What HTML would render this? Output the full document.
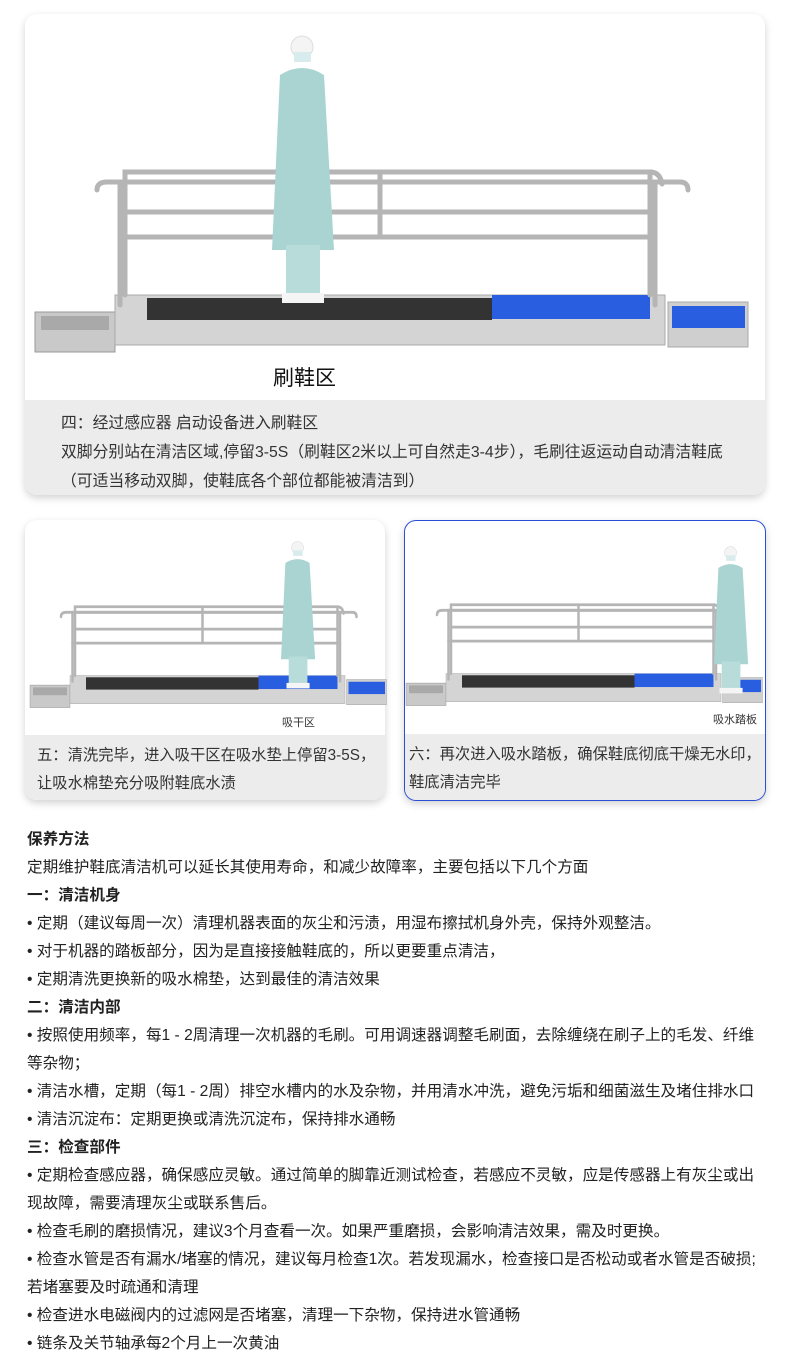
<!DOCTYPE html>
<html><head><meta charset="utf-8"><style>
*{margin:0;padding:0;box-sizing:border-box}
body{width:790px;height:1365px;background:#fff;position:relative;overflow:hidden;font-family:"Liberation Sans","Noto Sans CJK SC",sans-serif;color:#222}
.card{position:absolute;background:#fff;border-radius:12px;overflow:hidden;box-shadow:0 3px 8px rgba(0,0,0,.18)}
.gray{position:absolute;left:0;right:0;bottom:0;background:#ececec}
.t{position:absolute;font-size:15.8px;color:#333;white-space:nowrap}
.s{font-size:15.3px}
.txt{position:absolute;left:27px;font-size:15.6px;color:#222;white-space:nowrap;line-height:28px}
.b{font-weight:bold}
svg{position:absolute;left:0;top:0}
</style></head><body>

<div class="card" style="left:25px;top:14px;width:740px;height:481px">
  <div class="gray" style="height:95px"></div>
  <div class="t" style="left:36px;top:396px">四：经过感应器 启动设备进入刷鞋区</div>
  <div class="t" style="left:36px;top:425px">双脚分别站在清洁区域,停留3-5S（刷鞋区2米以上可自然走3-4步），毛刷往返运动自动清洁鞋底</div>
  <div class="t" style="left:36px;top:454px">（可适当移动双脚，使鞋底各个部位都能被清洁到）</div>
  <div class="t" style="left:248px;top:348px;font-size:21px;color:#111">刷鞋区</div>
</div>

<div class="card" style="left:25px;top:520px;width:360px;height:280px">
  <div class="gray" style="height:65px"></div>
  <div class="t s" style="left:12px;top:223px">五：清洗完毕，进入吸干区在吸水垫上停留3-5S，</div>
  <div class="t s" style="left:12px;top:251px">让吸水棉垫充分吸附鞋底水渍</div>
  <div class="t" style="left:257px;top:194px;font-size:11px">吸干区</div>
</div>

<div class="card" style="left:404px;top:520px;width:362px;height:281px;border:1.5px solid #2a4fd6">
  <div class="gray" style="height:66px"></div>
  <div class="t s" style="left:4px;top:221px">六：再次进入吸水踏板，确保鞋底彻底干燥无水印，</div>
  <div class="t s" style="left:4px;top:249px">鞋底清洁完毕</div>
  <div class="t" style="left:308px;top:190px;font-size:11px">吸水踏板</div>
</div>

<svg width="790" height="820" viewBox="0 0 790 820">
 <defs>
  <g id="m">
   <rect x="0" y="152" width="80" height="40" fill="#c9c9c9" stroke="#999"/>
   <rect x="6" y="156" width="68" height="14" fill="#a9a9a9"/>
   <rect x="80" y="135" width="550" height="50" fill="#d4d4d4" stroke="#aaa"/>
   <rect x="112" y="138" width="345" height="22" fill="#333"/>
   <rect x="457" y="135" width="158" height="24" fill="#2a5ee0"/>
   <rect x="633" y="142" width="80" height="45" fill="#cfcfcf" stroke="#aaa"/>
   <rect x="637" y="146" width="73" height="22" fill="#2a5ee0"/>
   <g stroke="#b5b5b5" stroke-width="5" fill="none" stroke-linecap="round">
    <path d="M90 135V12H615V135"/>
    <path d="M615 12q10 0 12 12"/>
    <path d="M85 145V22H620V145"/>
    <path d="M62 30q0-8 10-8H645q8 0 8 8"/>
    <path d="M90 52H615M85 77H620M345 12V77"/>
   </g>
  </g>
  <g id="p">
   <circle cx="30" cy="12" r="11" fill="#f4f4f4" stroke="#ddd"/>
   <rect x="22" y="17" width="17" height="10" fill="#d8ecee"/>
   <path d="M8 40q22-14 44 0l10 175H0z" fill="#a9d4d2"/>
   <rect x="14" y="210" width="34" height="52" fill="#b8dcd9"/>
   <rect x="10" y="258" width="42" height="10" fill="#f5f5f5"/>
  </g>
 </defs>
 <use href="#m" transform="translate(35,160)"/>
 <use href="#p" transform="translate(272,35)"/>
 <use href="#m" transform="translate(30,600) scale(0.5,0.56)"/>
 <use href="#p" transform="translate(281,541) scale(0.55)"/>
 <use href="#m" transform="translate(406,598) scale(0.5,0.56)"/>
 <use href="#p" transform="translate(714,546) scale(0.55)"/>
</svg>

<div class="txt b" style="top:826px">保养方法</div>
<div class="txt" style="top:854px">定期维护鞋底清洁机可以延长其使用寿命，和减少故障率，主要包括以下几个方面</div>
<div class="txt b" style="top:882px">一：清洁机身</div>
<div class="txt" style="top:910px">• 定期（建议每周一次）清理机器表面的灰尘和污渍，用湿布擦拭机身外壳，保持外观整洁。</div>
<div class="txt" style="top:938px">• 对于机器的踏板部分，因为是直接接触鞋底的，所以更要重点清洁，</div>
<div class="txt" style="top:966px">• 定期清洗更换新的吸水棉垫，达到最佳的清洁效果</div>
<div class="txt b" style="top:994px">二：清洁内部</div>
<div class="txt" style="top:1022px">• 按照使用频率，每1 - 2周清理一次机器的毛刷。可用调速器调整毛刷面，去除缠绕在刷子上的毛发、纤维</div>
<div class="txt" style="top:1050px">等杂物；</div>
<div class="txt" style="top:1078px">• 清洁水槽，定期（每1 - 2周）排空水槽内的水及杂物，并用清水冲洗，避免污垢和细菌滋生及堵住排水口</div>
<div class="txt" style="top:1106px">• 清洁沉淀布：定期更换或清洗沉淀布，保持排水通畅</div>
<div class="txt b" style="top:1134px">三：检查部件</div>
<div class="txt" style="top:1162px">• 定期检查感应器，确保感应灵敏。通过简单的脚靠近测试检查，若感应不灵敏，应是传感器上有灰尘或出</div>
<div class="txt" style="top:1190px">现故障，需要清理灰尘或联系售后。</div>
<div class="txt" style="top:1218px">• 检查毛刷的磨损情况，建议3个月查看一次。如果严重磨损，会影响清洁效果，需及时更换。</div>
<div class="txt" style="top:1246px">• 检查水管是否有漏水/堵塞的情况，建议每月检查1次。若发现漏水，检查接口是否松动或者水管是否破损;</div>
<div class="txt" style="top:1274px">若堵塞要及时疏通和清理</div>
<div class="txt" style="top:1302px">• 检查进水电磁阀内的过滤网是否堵塞，清理一下杂物，保持进水管通畅</div>
<div class="txt" style="top:1330px">• 链条及关节轴承每2个月上一次黄油</div>
</body></html>
